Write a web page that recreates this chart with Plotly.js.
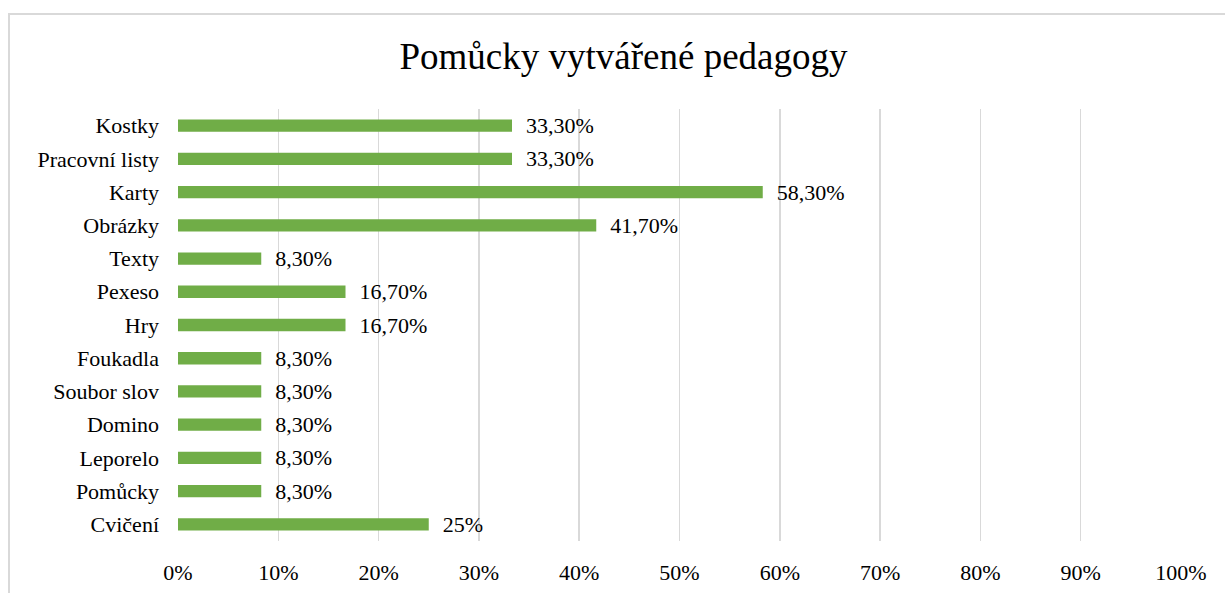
<!DOCTYPE html>
<html><head><meta charset="utf-8">
<script src="https://cdn.plot.ly/plotly-3.0.1.min.js"></script>
<style>
html,body{margin:0;padding:0;overflow:hidden;background:#fff;}
#chart{width:1225px;height:593px;}
#frame{position:absolute;left:8px;top:13px;width:1300px;height:700px;border:2px solid #d9d9d9;box-sizing:border-box;pointer-events:none;}
</style>
</head><body>
<div id="chart"></div>
<div id="frame"></div>
<script>
var categories = ["Kostky","Pracovní listy","Karty","Obrázky","Texty","Pexeso","Hry","Foukadla","Soubor slov","Domino","Leporelo","Pomůcky","Cvičení"];
var values = [0.333,0.333,0.583,0.417,0.083,0.167,0.167,0.083,0.083,0.083,0.083,0.083,0.25];
var labels = ["33,30%","33,30%","58,30%","41,70%","8,30%","16,70%","16,70%","8,30%","8,30%","8,30%","8,30%","8,30%","25%"];
var tickVals = [0,0.1,0.2,0.3,0.4,0.5,0.6,0.7,0.8,0.9,1];
var tickText = ["0%","10%","20%","30%","40%","50%","60%","70%","80%","90%","100%"];

var font = "Liberation Serif, Times New Roman, serif";
var trace = {
  type: "bar",
  orientation: "h",
  y: categories,
  x: values,
  text: labels.map(function(s){return "\u00a0\u00a0" + s;}),
  textposition: "outside",
  constraintext: "none",
  textfont: {family: font, size: 22, color: "#000"},
  cliponaxis: false,
  marker: {color: "#70AD47"},
  width: 0.37,
  hoverinfo: "none"
};
var layout = {
  width: 1225, height: 593,
  margin: {l: 178, r: 44, t: 109, b: 52},
  paper_bgcolor: "#fff", plot_bgcolor: "#fff",
  showlegend: false,
  title: {text: "Pomůcky vytvářené pedagogy", font: {family: font, size: 37, color: "#000"}, x: 0.509, xanchor: "center", y: 0.905, yanchor: "middle", xref: "container"},
  xaxis: {range: [0, 1], tickvals: tickVals, ticktext: tickText, showgrid: true, gridcolor: "#d9d9d9", gridwidth: 1.5,
          zeroline: false, showline: false, ticks: "", ticklabelstandoff: 16,
          tickfont: {family: font, size: 22, color: "#000"}, fixedrange: true},
  yaxis: {type: "category", categoryorder: "array", categoryarray: categories, autorange: "reversed",
          showgrid: false, zeroline: false, showline: false, ticks: "", ticklabelstandoff: 18,
          tickfont: {family: font, size: 22, color: "#000"}, fixedrange: true}
};
Plotly.newPlot("chart", [trace], layout, {displayModeBar: false, staticPlot: true});
</script>
</body></html>
